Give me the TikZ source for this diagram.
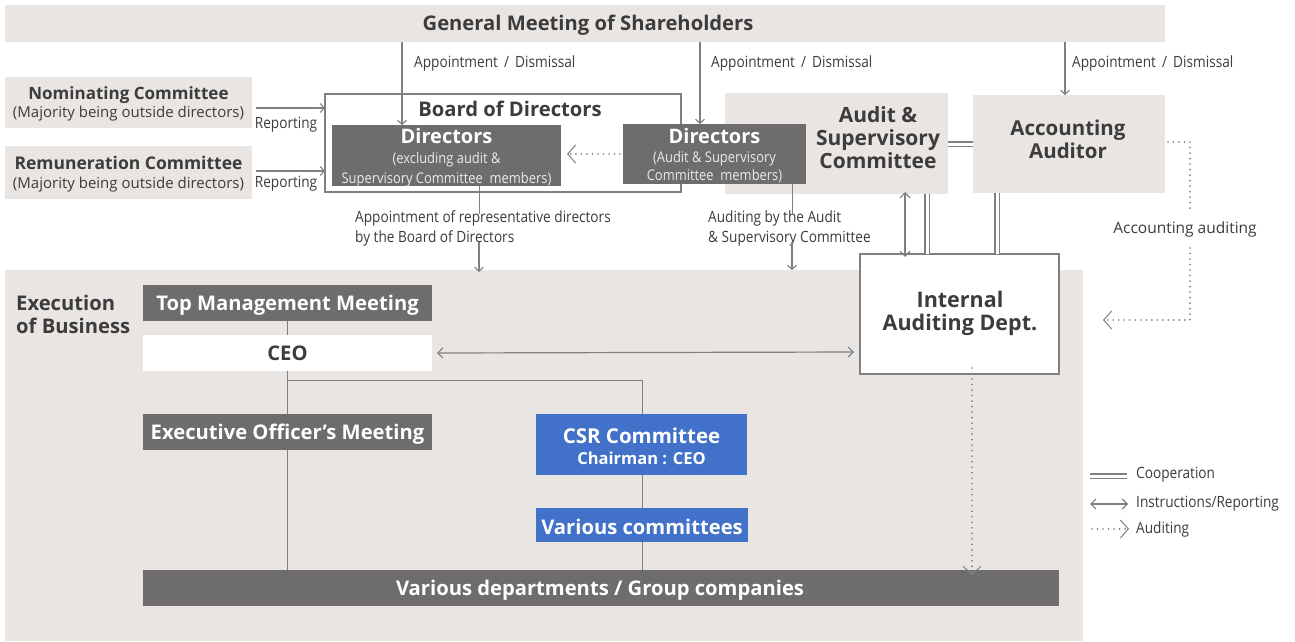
\documentclass[tikz,border=0pt]{standalone}
\usepackage{fontspec}
\setmainfont{Open Sans}
\newfontfamily\cond[FakeStretch=0.88]{Open Sans}
\usetikzlibrary{arrows.meta,calc}
\definecolor{bgl}{RGB}{233,229,226}
\definecolor{dkbox}{RGB}{110,108,108}
\definecolor{blbox}{RGB}{66,113,201}
\definecolor{lng}{RGB}{128,128,128}
\definecolor{txt}{RGB}{60,60,60}
\definecolor{subw}{RGB}{235,235,235}
\tikzset{
  rect/.style={inner sep=0pt, outer sep=0pt, draw=none},
  lbox/.style={rect, fill=bgl},
  dbox/.style={rect, fill=dkbox, text=white},
  bbox/.style={rect, fill=blbox, text=white},
  hfont/.style={font=\fontsize{20.2}{23}\selectfont\bfseries},
  lab/.style={inner sep=0pt, text=txt, font=\cond\fontsize{15.5}{20}\selectfont},
  conn/.style={draw=lng, line width=1.2pt},
  thin/.style={draw=lng, line width=0.9pt},
  arr/.style={conn, -{Straight Barb[length=4pt,width=9pt,line width=1.1pt]}},
  darr/.style={conn, {Straight Barb[length=5pt,width=10pt,line width=1.1pt]}-{Straight Barb[length=5pt,width=10pt,line width=1.1pt]}},
  coop/.style={draw=lng, line width=1.1pt, double=white, double distance=3pt},
  audit/.style={draw=lng, line width=1.8pt, dash pattern=on 0.01pt off 5.5pt, line cap=round,
     -{Straight Barb[length=8pt,width=18pt,line width=1pt,line cap=butt]}},
  auditn/.style={draw=lng, line width=1.8pt, dash pattern=on 0.01pt off 5.5pt, line cap=round},
}
\begin{document}
\begin{tikzpicture}[x=1pt,y=-1pt]
\useasboundingbox[fill=white] (0,0) rectangle (1295,641);
% backgrounds
\node[lbox, minimum width=1078pt, minimum height=371pt] (exb) at (544,455.5) {};
\node[lbox, minimum width=1160pt, minimum height=37pt] (gm) at (585,23.5) {};
\node[inner sep=0pt, text=txt, hfont] (gmt) at (588,25) {General Meeting of Shareholders};
% committees
\node[lbox, minimum width=247pt, minimum height=51pt] (nom) at (128.5,102.5) {};
\node[text=txt, align=center, inner sep=0pt, font=\fontsize{15}{18}\selectfont] (nomt) at (128.5,104) {{\fontsize{17}{18}\selectfont\bfseries Nominating Committee}\\(Majority being outside directors)};
\node[lbox, minimum width=247pt, minimum height=53pt] (rem) at (128.5,172.5) {};
\node[text=txt, align=center, inner sep=0pt, font=\fontsize{15}{19}\selectfont] (remt) at (128.5,174) {{\fontsize{17.5}{18}\selectfont\bfseries Remuneration Committee}\\(Majority being outside directors)};
% board
\node[rect, draw=lng, line width=1.5pt, minimum width=356pt, minimum height=98pt] (bod) at (503,143) {};
\node[text=txt, hfont, inner sep=0pt] (bodt) at (510,109) {Board of Directors};
\node[dbox, minimum width=229pt, minimum height=61pt] (dir1) at (446.5,155.5) {};
\node[align=center, inner sep=0pt, text=subw, font=\cond\fontsize{14.7}{20}\selectfont] (dir1t) at (446.5,158) {{\normalfont\fontsize{20}{21}\selectfont\bfseries\color{white}Directors}\\(excluding audit \&\\Supervisory Committee\ \ members)};
\node[lbox, minimum width=223pt, minimum height=101pt] (asc) at (836.5,143.5) {};
\node[align=center, inner sep=0pt, text=txt, font=\fontsize{21}{23}\selectfont\bfseries] (asct) at (878,138) {Audit \&\\Supervisory\\Committee};
\node[dbox, minimum width=183pt, minimum height=60pt] (dir2) at (714.5,154) {};
\node[align=center, inner sep=0pt, text=subw, font=\cond\fontsize{14.7}{18.5}\selectfont] (dir2t) at (714.5,156) {{\normalfont\fontsize{20}{21}\selectfont\bfseries\color{white}Directors}\\(Audit \& Supervisory\\Committee\ \ members)};
\node[lbox, minimum width=192pt, minimum height=98pt] (aa) at (1069,144) {};
\node[align=center, inner sep=0pt, text=txt, font=\fontsize{20.5}{23}\selectfont\bfseries] (aat) at (1068,139.5) {Accounting\\Auditor};
% internal auditing
\node[rect, fill=white, draw=lng, line width=2pt, minimum width=199pt, minimum height=120pt] (iad) at (959.5,314) {};
\node[align=center, inner sep=0pt, text=txt, font=\fontsize{21.5}{23}\selectfont\bfseries] (iadt) at (960,313.5) {Internal\\Auditing Dept.};
% execution
\node[anchor=west, align=left, inner sep=0pt, text=txt, hfont] (exl) at (16,314.5) {Execution\\of Business};
\node[dbox, minimum width=289pt, minimum height=36pt] (tmm) at (287.5,303) {};
\node[inner sep=0pt, text=white, hfont] (tmmt) at (287.5,305) {Top Management Meeting};
\node[rect, fill=white, text=txt, hfont, minimum width=289pt, minimum height=36pt] (ceo) at (287.5,353) {CEO};
\node[dbox, minimum width=289pt, minimum height=36pt] (eom) at (287.5,432) {};
\node[inner sep=0pt, text=white, hfont] (eomt) at (287.5,434) {Executive Officer’s Meeting};
\node[bbox, minimum width=211pt, minimum height=61pt] (csr) at (641.5,444.5) {};
\node[align=center, inner sep=0pt, text=white, font=\fontsize{16.5}{21}\selectfont\bfseries] (csrt) at (641.5,446) {{\fontsize{20.5}{21}\selectfont CSR Committee}\\Chairman : CEO};
\node[bbox, hfont, minimum width=212pt, minimum height=34pt] (vc) at (642,525) {};
\node[inner sep=0pt, text=white, hfont] (vct) at (642,527) {Various committees};
\node[dbox, minimum width=916pt, minimum height=36pt] (vd) at (601,588) {};
\node[inner sep=0pt, text=white, hfont] (vdt) at (600,590) {Various departments / Group companies};
% labels
\node[lab, anchor=west] (l1) at (414,63) {Appointment\, /\, Dismissal};
\node[lab, anchor=west] (l2) at (711,63) {Appointment\, /\, Dismissal};
\node[lab, anchor=west] (l3) at (1072,63) {Appointment\, /\, Dismissal};
\node[lab] (r1) at (286,125) {Reporting};
\node[lab] (r2) at (286,184) {Reporting};
\node[lab, anchor=west, align=left] (l4) at (355,228) {Appointment of representative directors\\by the Board of Directors};
\node[lab, anchor=west, align=left] (l5) at (708,228) {Auditing by the Audit\\\& Supervisory Committee};
\node[lab, font=\fontsize{15.5}{20}\selectfont] (l6) at (1185,229) {Accounting auditing};
% helper coordinates
\coordinate (x402) at (402,0);
\coordinate (x700) at (700,0);
\coordinate (x1065) at (1065,0);
\coordinate (x479) at (479,0);
\coordinate (x792) at (792,0);
\coordinate (x905) at (905,0);
\coordinate (x926) at (927,0);
\coordinate (x997) at (997,0);
\coordinate (x972) at (972,0);
\coordinate (x287) at (287.5,0);
\coordinate (x642) at (642,0);
\coordinate (y108) at (0,108);
\coordinate (y171) at (0,171);
\coordinate (y142) at (0,144);
\coordinate (y154) at (0,154);
\coordinate (y352) at (0,352);
\coordinate (brj) at (287.5,380);
\coordinate (brk) at (642,380);
\coordinate (ac1) at (1190,142);
\coordinate (ac2) at (1190,210);
\coordinate (ac3) at (1190,248);
\coordinate (ac4) at (1190,320);
\coordinate (ac5) at (1103,320);
% connectors
\draw[arr] (gm.south -| x402) -- (dir1.north -| x402);
\draw[arr] (gm.south -| x700) -- (dir2.north -| x700);
\draw[arr] (gm.south -| x1065) -- (aa.north -| x1065);
\draw[arr] (nom.east |- y108) ++(4,0) -- (bod.west |- y108);
\draw[arr] (rem.east |- y171) ++(4,0) -- (bod.west |- y171);
\draw[audit] ([xshift=-3pt]dir2.west |- y154) -- ([xshift=6pt]dir1.east |- y154);
\draw[coop] (asc.east |- y142) -- (aa.west |- y142);
\draw[thin] (dir1.south -| x479) -- ([yshift=-4pt]l4.north -| x479);
\draw[arr] ([yshift=4pt]l4.south -| x479) -- ([yshift=-2pt]exb.north -| x479);
\draw[thin] (dir2.south -| x792) -- ([yshift=-4pt]l5.north -| x792);
\draw[arr] ([yshift=4pt]l5.south -| x792) -- ([yshift=0pt]exb.north -| x792);
\draw[darr] ([yshift=2pt]asc.south -| x905) -- ([yshift=-3pt]iad.north -| x905);
\draw[coop] (asc.south -| x926) -- (iad.north -| x926);
\draw[coop] (aa.south -| x997) -- (iad.north -| x997);
\draw[darr] ([xshift=5pt]ceo.east) -- ([xshift=-6pt]iad.west |- y352);
\draw[audit] ([yshift=6pt]iad.south -| x972) -- ([yshift=-5pt]vd.north -| x972);
\draw[auditn] ([xshift=3pt]aa.east |- ac1) -- (ac1) -- (ac2);
\draw[audit] (ac3) -- (ac4) -- (ac5);
% execution tree
\draw[thin] (tmm.south) -- (ceo.north);
\draw[thin] (ceo.south) -- (eom.north);
\draw[thin] (eom.south) -- (vd.north -| x287);
\draw[thin] (brj) -- (brk) -- (csr.north -| brk);
\draw[thin] (csr.south -| x642) -- (vc.north -| x642);
\draw[thin] (vc.south -| x642) -- (vd.north -| x642);
% legend
\coordinate (lg1a) at (1090,476);
\coordinate (lg1b) at (1127,476);
\coordinate (lg2a) at (1090,504);
\coordinate (lg2b) at (1128,504);
\coordinate (lg3a) at (1092,529);
\coordinate (lg3b) at (1129,529);
\draw[coop] (lg1a) -- (lg1b);
\draw[darr] (lg2a) -- (lg2b);
\draw[audit] (lg3a) -- (lg3b);
\node[lab, anchor=west] (lt1) at (1136,475) {Cooperation};
\node[lab, anchor=west] (lt2) at (1136,504) {Instructions/Reporting};
\node[lab, anchor=west] (lt3) at (1136,529) {Auditing};
\end{tikzpicture}
\end{document}
